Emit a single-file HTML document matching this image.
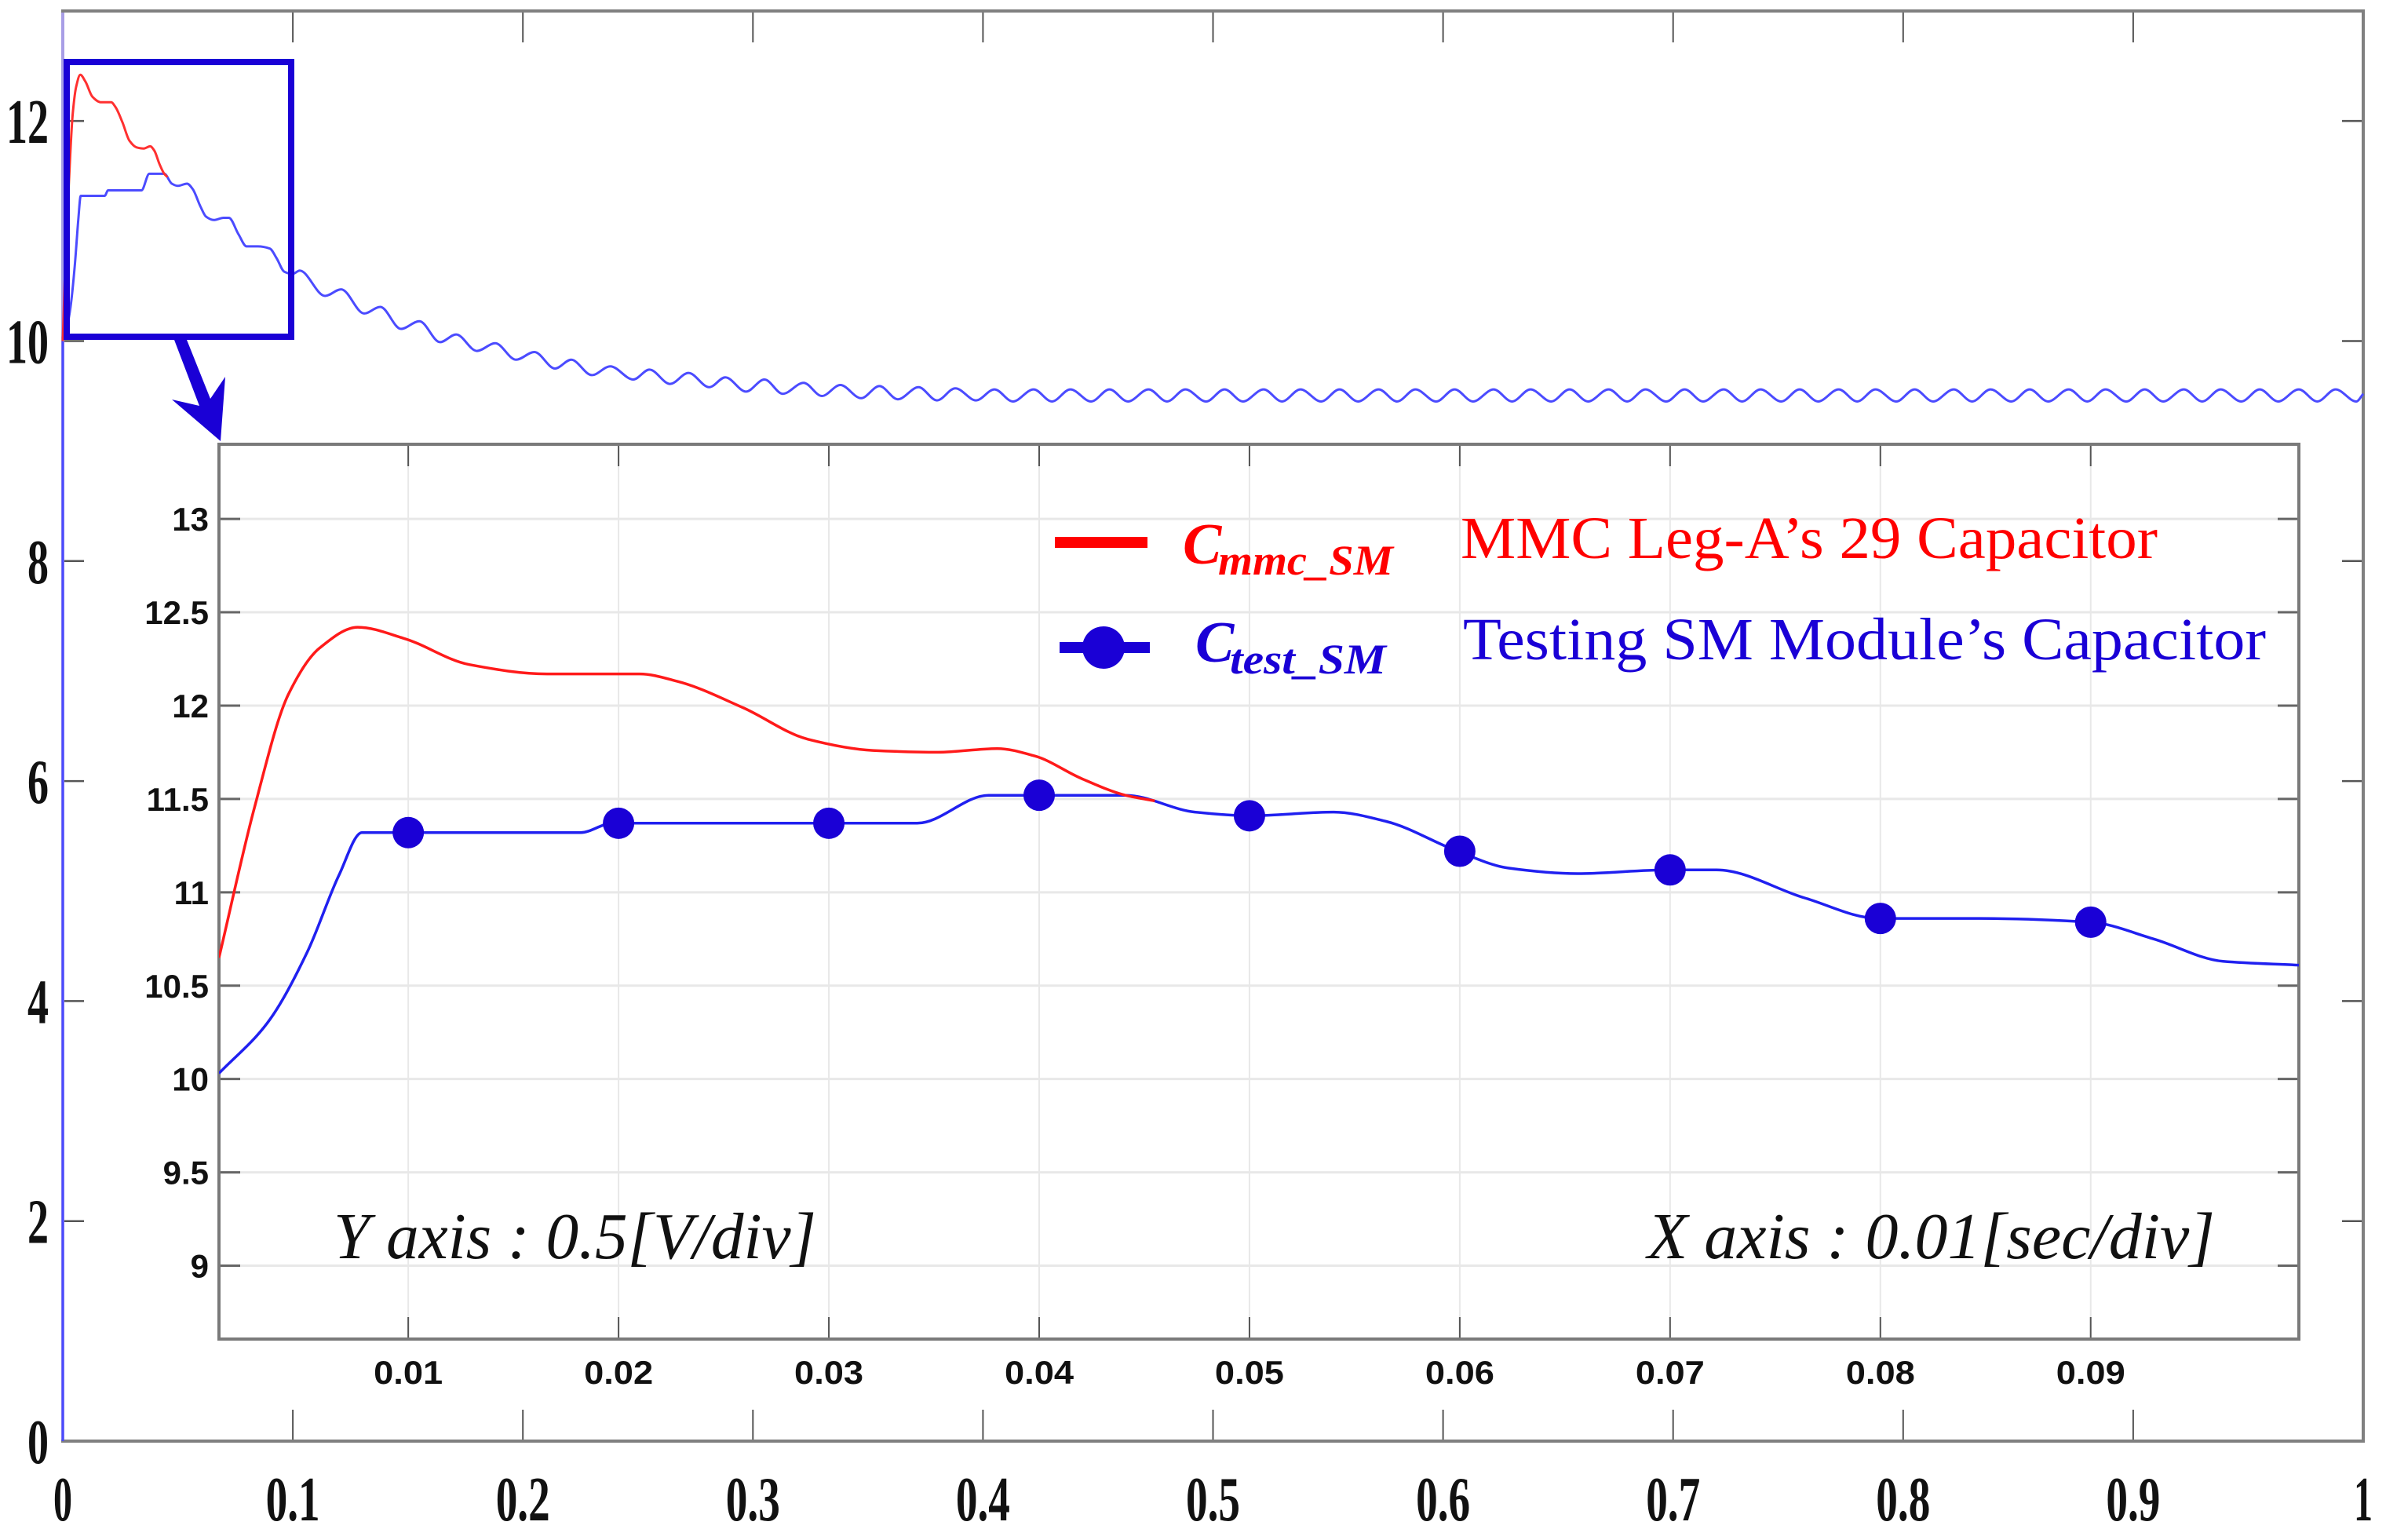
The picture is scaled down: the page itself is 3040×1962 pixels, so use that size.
<!DOCTYPE html>
<html><head><meta charset="utf-8"><style>
html,body{margin:0;padding:0;background:#fff;}
svg{display:block;}
</style></head><body>
<svg id="chart" xmlns="http://www.w3.org/2000/svg" width="3040" height="1962" viewBox="0 0 3040 1962">
<rect x="0" y="0" width="3040" height="1962" fill="#fff"/>
<g id="main"></g>
<g id="inset"></g>
<g id="overlay"></g>
</svg>
<script>
// ---------- data ----------
const mainXTicks = [0,0.1,0.2,0.3,0.4,0.5,0.6,0.7,0.8,0.9,1];
const mainXTickLabels = ["0","0.1","0.2","0.3","0.4","0.5","0.6","0.7","0.8","0.9","1"];
const mainYTicks = [0,2,4,6,8,10,12];
const mainYTickLabels = ["0","2","4","6","8","10","12"];
const insetXTicks = [0.01,0.02,0.03,0.04,0.05,0.06,0.07,0.08,0.09];
const insetXTickLabels = ["0.01","0.02","0.03","0.04","0.05","0.06","0.07","0.08","0.09"];
const insetYTicks = [9,9.5,10,10.5,11,11.5,12,12.5,13];
const insetYTickLabels = ["9","9.5","10","10.5","11","11.5","12","12.5","13"];

// C_mmc_SM (red) early transient
const redT = [0.001,0.0027,0.0043,0.0058,0.0076,0.0098,0.0129,0.0166,0.0210,0.0228,0.0259,0.0290,0.0321,0.0352,0.0380,0.0398,0.0420,0.0441,0.0455];
const redV = [10.65,11.46,12.06,12.31,12.42,12.36,12.22,12.17,12.17,12.13,11.99,11.82,11.76,11.75,11.77,11.73,11.61,11.52,11.49];
// C_test_SM (blue) early transient
const blueT = [0.001,0.0033,0.0052,0.0067,0.0078,0.0100,0.0182,0.0197,0.0342,0.0376,0.0441,0.0474,0.0500,0.0540,0.0565,0.0599,0.0623,0.0656,0.0699,0.0722,0.0764,0.0799,0.0847,0.0900,0.0930,0.0963,0.0999];
const blueV = [10.03,10.30,10.68,11.09,11.32,11.32,11.32,11.37,11.37,11.52,11.52,11.43,11.41,11.43,11.38,11.22,11.13,11.10,11.12,11.12,10.97,10.86,10.86,10.84,10.75,10.63,10.61];
// markers on C_test_SM
const markerT = [0.01,0.02,0.03,0.04,0.05,0.06,0.07,0.08,0.09];
const markerV = [11.32,11.37,11.37,11.52,11.41,11.22,11.12,10.86,10.84];
// C_test_SM ripple extremes after 0.1 s (main plot)
const rippleT = [0.103,0.114,0.121,0.131,0.138,0.147,0.155,0.164,0.171,0.180,0.188,0.197,0.205,0.214,0.221,0.230,0.238,0.248,0.255,0.264,0.272,0.281,0.288,0.297,0.305,
0.313,0.322,0.330,0.338,0.347,0.355,0.363,0.372,0.380,0.388,0.397,0.405,
0.413,0.422,0.430,0.438,0.447,0.455,0.463,0.472,0.480,0.488,
0.497,0.505,0.513,0.522,0.530,0.538,0.547,0.555,0.563,0.572,
0.580,0.588,0.597,0.605,0.613,0.622,0.630,0.638,0.647,0.655,
0.663,0.672,0.680,0.688,0.697,0.705,0.713,0.722,0.730,0.738,
0.747,0.755,0.763,0.772,0.780,0.788,0.797,0.805,0.813,0.822,
0.830,0.838,0.847,0.855,0.863,0.872,0.880,0.888,0.897,0.905,
0.913,0.922,0.930,0.938,0.947,0.955,0.963,0.972,0.980,0.988,
0.997,1.0];
const rippleV = [10.64,10.41,10.47,10.25,10.31,10.11,10.18,9.99,10.06,9.91,9.98,9.83,9.90,9.75,9.83,9.69,9.77,9.65,9.74,9.61,9.71,9.58,9.67,9.54,9.65,
9.52,9.62,9.50,9.60,9.48,9.59,9.47,9.58,9.46,9.57,9.46,9.56,
9.45,9.56,9.45,9.56,9.45,9.56,9.45,9.56,9.45,9.56,
9.45,9.56,9.45,9.56,9.45,9.56,9.45,9.56,9.45,9.56,
9.45,9.56,9.45,9.56,9.45,9.56,9.45,9.56,9.45,9.56,
9.45,9.56,9.45,9.56,9.45,9.56,9.45,9.56,9.45,9.56,
9.45,9.56,9.45,9.56,9.45,9.56,9.45,9.56,9.45,9.56,
9.45,9.56,9.45,9.56,9.45,9.56,9.45,9.56,9.45,9.56,
9.45,9.56,9.45,9.56,9.45,9.56,9.45,9.56,9.45,9.56,
9.45,9.52];

// ---------- helpers ----------
const NS = "http://www.w3.org/2000/svg";
function mk(tag, attrs, parent){ const e=document.createElementNS(NS,tag); for(const k in attrs) e.setAttribute(k,attrs[k]); parent.appendChild(e); return e; }
function pairs(ts, vs, fx, fy){ const n=Math.min(ts.length, vs.length); const out=[]; for(let i=0;i<n;i++) out.push([fx(ts[i]), fy(vs[i])]); return out; }
// monotone cubic (Fritsch-Carlson) through points with increasing x
function smoothPath(pts){
  const n=pts.length;
  let d = "M"+pts[0][0].toFixed(1)+","+pts[0][1].toFixed(1);
  if(n<2) return d;
  const dx=[],s=[];
  for(let i=0;i<n-1;i++){ dx.push(Math.max(1e-6,pts[i+1][0]-pts[i][0])); s.push((pts[i+1][1]-pts[i][1])/dx[i]); }
  const m=[s[0]];
  for(let i=1;i<n-1;i++){
    if(s[i-1]*s[i]<=0) m.push(0);
    else { const w1=2*dx[i]+dx[i-1], w2=dx[i]+2*dx[i-1]; m.push((w1+w2)/(w1/s[i-1]+w2/s[i])); }
  }
  m.push(s[n-2]);
  for(let i=0;i<n-1;i++){
    const h=dx[i];
    const c1x=pts[i][0]+h/3, c1y=pts[i][1]+m[i]*h/3;
    const c2x=pts[i+1][0]-h/3, c2y=pts[i+1][1]-m[i+1]*h/3;
    d+=" C"+c1x.toFixed(1)+","+c1y.toFixed(1)+" "+c2x.toFixed(1)+","+c2y.toFixed(1)+" "+pts[i+1][0].toFixed(1)+","+pts[i+1][1].toFixed(1);
  }
  return d;
}

// ---------- main axes ----------
const M = {l:80, r:3011, t:14, b:1836, x0:0, x1:1, y0:0, y1:13};
const mx = t => M.l + (t-M.x0)/(M.x1-M.x0)*(M.r-M.l);
const my = v => M.b - (v-M.y0)/(M.y1-M.y0)*(M.b-M.t);
const gMain = document.getElementById("main");

mainXTicks.forEach((t,i)=>{
  if(i>0 && i<mainXTicks.length-1){
    const a=mk("line",{x1:mx(t),x2:mx(t),y1:M.b,y2:M.b-40,stroke:"#555","stroke-width":2},gMain);
    
    
    const b=mk("line",{x1:mx(t),x2:mx(t),y1:M.t,y2:M.t+40,stroke:"#555","stroke-width":2},gMain);
    
    
  }
  const lab=mainXTickLabels[i];
  const tx=mk("text",{x:mx(t),y:1937,"text-anchor":"middle","font-family":"Liberation Serif, serif","font-weight":"bold","font-size":80,fill:"#111",textLength:(lab.length===1?24:lab.length*23),lengthAdjust:"spacingAndGlyphs"},gMain);
  tx.textContent=lab;
  
  
});
mainYTicks.forEach((v,i)=>{
  if(i>0){
    const a=mk("line",{x1:M.l,x2:M.l+27,y1:my(v),y2:my(v),stroke:"#555","stroke-width":2.5},gMain);
    
    
    const b=mk("line",{x1:M.r,x2:M.r-27,y1:my(v),y2:my(v),stroke:"#555","stroke-width":2.5},gMain);
    
    
  }
  const lab=mainYTickLabels[i];
  const tx=mk("text",{x:62,y:my(v)+28,"text-anchor":"end","font-family":"Liberation Serif, serif","font-weight":"bold","font-size":80,fill:"#111",textLength:lab.length*27,lengthAdjust:"spacingAndGlyphs"},gMain);
  tx.textContent=lab;
  
  
});
let fr=mk("rect",{x:M.l,y:M.t,width:M.r-M.l,height:M.b-M.t,fill:"none",stroke:"#808080","stroke-width":4},gMain);


let la=mk("line",{x1:M.l,x2:M.l,y1:M.t+2,y2:M.b-2,stroke:"#a89ee6","stroke-width":4},gMain);



let mainRedPts=[[mx(0),my(10.0)]].concat(pairs(redT,redV,mx,my));
let mainBluePts=pairs(blueT,blueV,mx,my).concat(pairs(rippleT,rippleV,mx,my));
let mb=mk("path",{d:"M"+mx(0)+","+my(0)+" L"+mx(0)+","+my(blueV[0])+" "+smoothPath(mainBluePts).replace(/^M/,"L"),fill:"none",stroke:"#4b4bff","stroke-width":3},gMain);


let mr=mk("path",{d:smoothPath(mainRedPts),fill:"none",stroke:"#ff3030","stroke-width":3},gMain);



// ---------- zoom box + arrow ----------
const gOv=document.getElementById("overlay");
let zb=mk("rect",{x:85,y:79,width:286,height:350,fill:"none",stroke:"#1a00d6","stroke-width":8},gOv);


let ar=mk("polygon",{points:"222,433 238,433 268,508 287,480 281,562 219,509 254,517",fill:"#1a00d6"},gOv);



// ---------- inset ----------
const I = {l:279, r:2929, t:566, b:1706, x0:0.001, x1:0.0999, y0:8.607, y1:13.40};
const ix = t => I.l + (t-I.x0)/(I.x1-I.x0)*(I.r-I.l);
const iy = v => I.b - (v-I.y0)/(I.y1-I.y0)*(I.b-I.t);
const gIn=document.getElementById("inset");
let bg=mk("rect",{x:I.l,y:I.t,width:I.r-I.l,height:I.b-I.t,fill:"#fff"},gIn);


const defs=mk("defs",{},gIn);
const cp=mk("clipPath",{id:"insetClip"},defs);
mk("rect",{x:I.l,y:I.t,width:I.r-I.l,height:I.b-I.t},cp);

insetXTicks.forEach((t,i)=>{
  const g=mk("line",{x1:ix(t),x2:ix(t),y1:I.t,y2:I.b,stroke:"#e8e8e8","stroke-width":2},gIn);
  
  
});
insetYTicks.forEach((v,i)=>{
  const g=mk("line",{x1:I.l,x2:I.r,y1:iy(v),y2:iy(v),stroke:"#e8e8e8","stroke-width":3},gIn);
  
  
});
insetXTicks.forEach((t,i)=>{
  const a=mk("line",{x1:ix(t),x2:ix(t),y1:I.b,y2:I.b-28,stroke:"#555","stroke-width":2},gIn);
  
  
  const b=mk("line",{x1:ix(t),x2:ix(t),y1:I.t,y2:I.t+28,stroke:"#555","stroke-width":2},gIn);
  
  
  const tx=mk("text",{x:ix(t),y:1763,"text-anchor":"middle","font-family":"Liberation Sans, sans-serif","font-weight":"bold","font-size":42,fill:"#111",textLength:88,lengthAdjust:"spacingAndGlyphs"},gIn);
  tx.textContent=insetXTickLabels[i];
  
  
});
insetYTicks.forEach((v,i)=>{
  const a=mk("line",{x1:I.l,x2:I.l+27,y1:iy(v),y2:iy(v),stroke:"#666","stroke-width":3},gIn);
  
  
  const b=mk("line",{x1:I.r,x2:I.r-27,y1:iy(v),y2:iy(v),stroke:"#666","stroke-width":3},gIn);
  
  
  const tx=mk("text",{x:266,y:iy(v)+15,"text-anchor":"end","font-family":"Liberation Sans, sans-serif","font-weight":"bold","font-size":42,fill:"#111"},gIn);
  tx.textContent=insetYTickLabels[i];
  
  
});
let ifr=mk("rect",{x:I.l,y:I.t,width:I.r-I.l,height:I.b-I.t,fill:"none",stroke:"#7a7a7a","stroke-width":4},gIn);



const gSeries=mk("g",{"clip-path":"url(#insetClip)"},gIn);
let ib=mk("path",{d:smoothPath(pairs(blueT,blueV,ix,iy)),fill:"none",stroke:"#2020f0","stroke-width":3.5},gSeries);


let ir=mk("path",{d:smoothPath(pairs(redT,redV,ix,iy)),fill:"none",stroke:"#ff1a1a","stroke-width":3.5},gSeries);


markerT.forEach((t,i)=>{
  const c=mk("circle",{cx:ix(t),cy:iy(markerV[i]),r:20,fill:"#1a00d6"},gSeries);
  
  
});

// ---------- legend ----------
const gLeg=mk("g",{},gIn);


let l1=mk("rect",{x:1344,y:684,width:118,height:14,fill:"#ff0000"},gLeg);


let l2=mk("rect",{x:1350,y:818,width:115,height:14,fill:"#1a00d6"},gLeg);


let l3=mk("circle",{cx:1406,cy:825,r:27,fill:"#1a00d6"},gLeg);


</script>
<svg style="position:absolute;left:0;top:0" width="3040" height="1962" viewBox="0 0 3040 1962">
  <g fill="#ff0000">
    <text x="1507" y="718" font-family="Liberation Serif, serif" font-style="italic" font-weight="bold" font-size="74">C</text>
    <text x="1552" y="732" font-family="Liberation Serif, serif" font-style="italic" font-weight="bold" font-size="54" textLength="223" lengthAdjust="spacingAndGlyphs">mmc_SM</text>
    <text x="1861" y="711" font-family="Liberation Serif, serif" font-size="76" textLength="888" lengthAdjust="spacingAndGlyphs">MMC Leg-A’s 29 Capacitor</text>
  </g>
  <g fill="#1a00d6">
    <text x="1523" y="843" font-family="Liberation Serif, serif" font-style="italic" font-weight="bold" font-size="74">C</text>
    <text x="1567" y="858" font-family="Liberation Serif, serif" font-style="italic" font-weight="bold" font-size="54" textLength="199" lengthAdjust="spacingAndGlyphs">test_SM</text>
    <text x="1864" y="840" font-family="Liberation Serif, serif" font-size="76" textLength="1023" lengthAdjust="spacingAndGlyphs">Testing SM Module’s Capacitor</text>
  </g>
  <text x="425" y="1603" font-family="Liberation Serif, serif" font-style="italic" font-size="84" fill="#111" textLength="615" lengthAdjust="spacingAndGlyphs">Y axis : 0.5[V/div]</text>
  <text x="2099" y="1603" font-family="Liberation Serif, serif" font-style="italic" font-size="84" fill="#111" textLength="723" lengthAdjust="spacingAndGlyphs">X axis : 0.01[sec/div]</text>
</svg>
</body></html>
